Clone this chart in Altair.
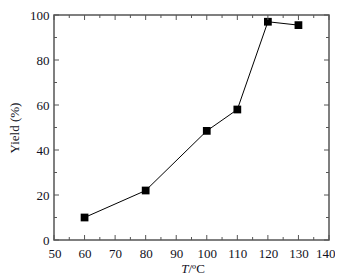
import altair as alt
import pandas as pd

temps = [60, 80, 100, 110, 120, 130]
yields = [10, 22, 48.5, 58, 97, 95.5]

x_major = [50, 60, 70, 80, 90, 100, 110, 120, 130, 140]
x_minor = [55, 65, 75, 85, 95, 105, 115, 125, 135]
y_major = [0, 20, 40, 60, 80, 100]
y_minor = [10, 30, 50, 70, 90]

W, H = 275, 225
FONT = "Liberation Serif"
FRAME = "#555555"
TXT = "#111122"

df = pd.DataFrame({"T": temps, "Y": yields})
xs = alt.Scale(domain=[50, 140], nice=False, zero=False)
ys = alt.Scale(domain=[0, 100], nice=False)

x_axis = alt.Axis(values=x_major, ticks=False, domain=False, grid=False,
                  labelPadding=7, labelOverlap=False, labelFlush=True, labelFlushOffset=6,
                  title=None)
y_axis = alt.Axis(values=y_major, ticks=False, domain=False, grid=False,
                  labelPadding=5, labelOverlap=False, labelFlush=False, title="Yield (%)",
                  titlePadding=8)

line = alt.Chart(df).mark_line(color="black", strokeWidth=1).encode(
    x=alt.X("T:Q", scale=xs, axis=x_axis),
    y=alt.Y("Y:Q", scale=ys, axis=y_axis),
)
pts = alt.Chart(df).mark_square(color="black", size=60, opacity=1).encode(
    x=alt.X("T:Q", scale=xs, axis=x_axis), y=alt.Y("Y:Q", scale=ys, axis=y_axis)
)

def xt(vals, length, bottom=True):
    d = pd.DataFrame({"v": vals})
    if bottom:
        return alt.Chart(d).mark_rule(color=FRAME, strokeWidth=1).encode(
            x=alt.X("v:Q", scale=xs, axis=x_axis), y=alt.value(H), y2=alt.value(H - length))
    return alt.Chart(d).mark_rule(color=FRAME, strokeWidth=1).encode(
        x=alt.X("v:Q", scale=xs, axis=x_axis), y=alt.value(0), y2=alt.value(length))

def yt(vals, length, left=True):
    d = pd.DataFrame({"v": vals})
    if left:
        return alt.Chart(d).mark_rule(color=FRAME, strokeWidth=1).encode(
            y=alt.Y("v:Q", scale=ys, axis=y_axis), x=alt.value(0), x2=alt.value(length))
    return alt.Chart(d).mark_rule(color=FRAME, strokeWidth=1).encode(
        y=alt.Y("v:Q", scale=ys, axis=y_axis), x=alt.value(W), x2=alt.value(W - length))

ticks = [xt(x_major, 5), xt(x_minor, 3), xt(x_major, 5, False), xt(x_minor, 3, False),
         yt(y_major, 5), yt(y_minor, 3), yt(y_major, 5, False), yt(y_minor, 3, False)]

t1 = alt.Chart(pd.DataFrame({"t": ["T"]})).mark_text(
    font=FONT, fontSize=13, fontStyle="italic", color=TXT, align="right", baseline="alphabetic"
).encode(text="t:N", x=alt.value(W / 2 - 3), y=alt.value(H + 33))
t2 = alt.Chart(pd.DataFrame({"t": ["/ºC"]})).mark_text(
    font=FONT, fontSize=13, color=TXT, align="left", baseline="alphabetic"
).encode(text="t:N", x=alt.value(W / 2 - 3), y=alt.value(H + 33))

chart = alt.layer(line, pts, *ticks, t1, t2).properties(
    width=W, height=H,
    autosize=alt.AutoSizeParams(type="none"),
    padding={"left": 46, "top": 7, "right": 6, "bottom": 40},
).configure_view(stroke=FRAME, strokeWidth=1.5).configure_axis(
    labelFont=FONT, labelFontSize=13, labelColor=TXT,
    titleFont=FONT, titleFontSize=13, titleFontWeight="normal", titleColor=TXT,
)

chart.save("out.html", embed_options={"renderer": "svg", "actions": False})
